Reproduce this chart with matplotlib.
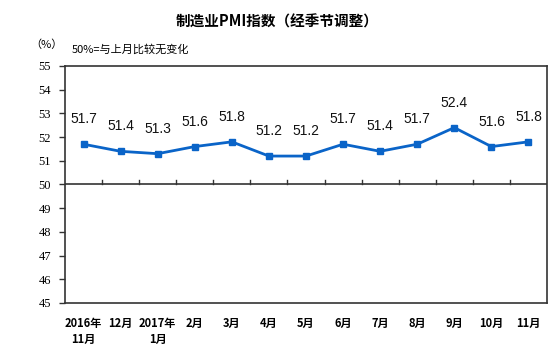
import matplotlib.pyplot as plt

plt.rcParams['font.family'] = ['Noto Sans CJK SC', 'DejaVu Sans']

# 数据
months = ['2016年\n11月', '12月', '2017年\n1月', '2月', '3月', '4月', '5月',
          '6月', '7月', '8月', '9月', '10月', '11月']
pmi = [51.7, 51.4, 51.3, 51.6, 51.8, 51.2, 51.2, 51.7, 51.4, 51.7, 52.4, 51.6, 51.8]
yticks = [45, 46, 47, 48, 49, 50, 51, 52, 53, 54, 55]

line_color = '#0a64c8'

fig = plt.figure(figsize=(5.54, 3.59), dpi=100)
ax = fig.add_axes([65 / 554, 1 - 303 / 359, 482 / 554, 237 / 359])

x = list(range(len(months)))
ax.plot(x, pmi, color=line_color, lw=2, marker='s', ms=5, zorder=3)
for xi, v in zip(x, pmi):
    ax.annotate(f'{v}', (xi, v), xytext=(0, 13), textcoords='offset points',
                ha='center', va='bottom', fontsize=10, family='Liberation Sans',
                color='#111111')

# 50线及分隔刻度
ax.axhline(50, color='#333333', lw=1.2, zorder=2)
for b in range(1, len(months)):
    ax.plot([b - 0.5, b - 0.5], [50, 50.17], color='#333333', lw=1, zorder=2)

ax.set_xlim(-0.5, len(months) - 0.5)
ax.set_ylim(45, 55)
ax.set_yticks(yticks)
ax.set_yticklabels([str(t) for t in yticks], family='Liberation Serif', fontsize=9)
ax.tick_params(axis='y', direction='out', length=4, width=1, color='#333333', pad=6)
ax.set_xticks(x)
ax.set_xticklabels(months, fontsize=8, fontweight='bold', va='top', linespacing=1.3)
ax.tick_params(axis='x', length=0, pad=10)
for s in ax.spines.values():
    s.set_color('#333333')
    s.set_linewidth(1.2)

fig.text(0.5, 1 - 22 / 359, '制造业PMI指数（经季节调整）', ha='center', va='center',
         fontsize=10.5, fontweight='bold')
fig.text(30 / 554, 1 - 45 / 359, '（%）', ha='left', va='center', fontsize=8)
fig.text(72 / 554, 1 - 49 / 359, '50%=与上月比较无变化', ha='left', va='center', fontsize=8)

fig.savefig('out.png', dpi=100)
